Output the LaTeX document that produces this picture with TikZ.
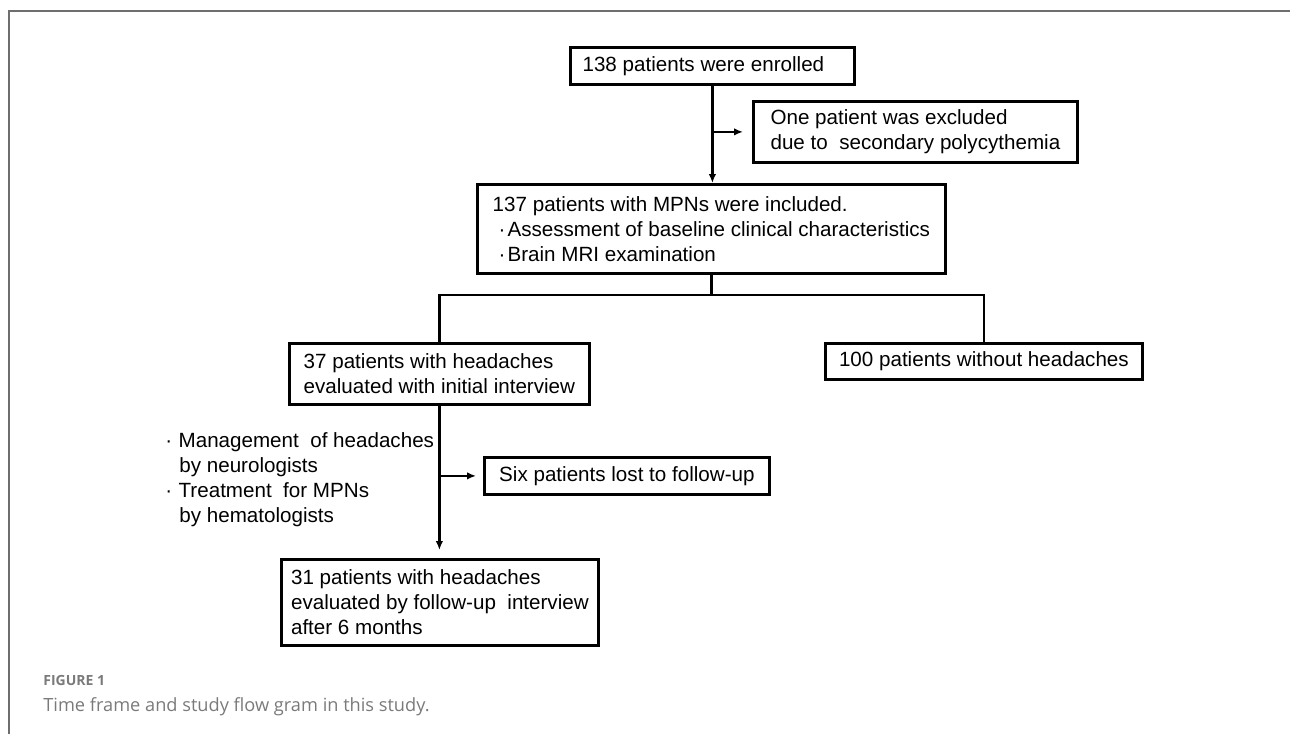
\documentclass[tikz,border=0pt]{standalone}
\usepackage{fontspec}
\setmainfont{Liberation Sans}
\newfontfamily\capfont{Open Sans}
\usetikzlibrary{arrows.meta}
\definecolor{framegray}{HTML}{6E6E6E}
\definecolor{capgray}{HTML}{7A7A7A}

\begin{document}
\begin{tikzpicture}[x=0.5pt,y=-0.5pt,font=\fontsize{10.3}{12.5}\selectfont]
\tikzstyle{box}=[draw,line width=1.4pt,align=left,anchor=north west,inner sep=0pt]
\tikzstyle{line}=[line width=1.15pt]
\tikzstyle{arr}=[line,-{Latex[length=4.5pt,width=3.8pt]}]

\useasboundingbox (0,0) rectangle (1290,734);
% frame
\draw[framegray,line width=0.75pt] (1290,11) -- (9,11) -- (9,734);

\node[box,minimum width=142pt,minimum height=18.5pt] (enrolled) at (569,46)
  {138 patients were enrolled\hspace*{9pt}};
\node[box,minimum width=162pt,minimum height=30.5pt] (excluded) at (752,100)
  {One patient was excluded\\due to~ secondary polycythemia};
\node[box,minimum width=234pt,minimum height=44.5pt] (included) at (476,183)
  {137 patients with MPNs were included.\\
   \hspace*{3pt}·\hspace{1pt}Assessment of baseline clinical characteristics\\
   \hspace*{3pt}·\hspace{1pt}Brain MRI examination};
\node[box,minimum width=150pt,minimum height=30.5pt] (with) at (288,342)
  {37 patients with headaches\\evaluated with initial interview};
\node[box,minimum width=158.5pt,minimum height=18pt] (without) at (824,342)
  {100 patients without headaches};
\node[box,minimum width=142.5pt,minimum height=18.5pt] (lost) at (483,456)
  {Six patients lost to follow-up};
\node[box,minimum width=158.5pt,minimum height=43pt] (followed) at (280,558)
  {31 patients with headaches\\evaluated by follow-up~ interview\\after 6 months};

% care between the interviews
\node[align=left,anchor=north west,inner sep=0pt] (care) at (165,432)
  {·\hspace{3.2pt}Management~ of headaches\\
   \hspace*{7pt}by neurologists\\
   ·\hspace{3.2pt}Treatment~ for MPNs\\
   \hspace*{7pt}by hematologists};

\draw[arr] (enrolled.south) -- (enrolled.south |- included.north);
\draw[arr,shorten >=4.5pt] (enrolled.south |- excluded.west) -- (excluded.west);
\path (included.south) ++(0,20) coordinate (split);
\draw[line] (included.south) -- (split);
\draw[line] (with.north) |- (split) -| (without.north);
\draw[arr,shorten >=4pt] (with.south) -- (with.south |- followed.north);
\draw[arr,shorten >=3.5pt] (with.south |- lost.west) -- (lost.west);

% caption
\node[anchor=west,inner sep=0pt,capgray,font=\capfont\bfseries\fontsize{7}{9}\selectfont] (figlabel) at (43,680) {FIGURE 1};
\node[anchor=west,inner sep=0pt,capgray,font=\capfont\fontsize{9.1}{11}\selectfont] (caption) at (43,707)
  {Time frame and study flow gram in this study.};
\end{tikzpicture}
\end{document}
